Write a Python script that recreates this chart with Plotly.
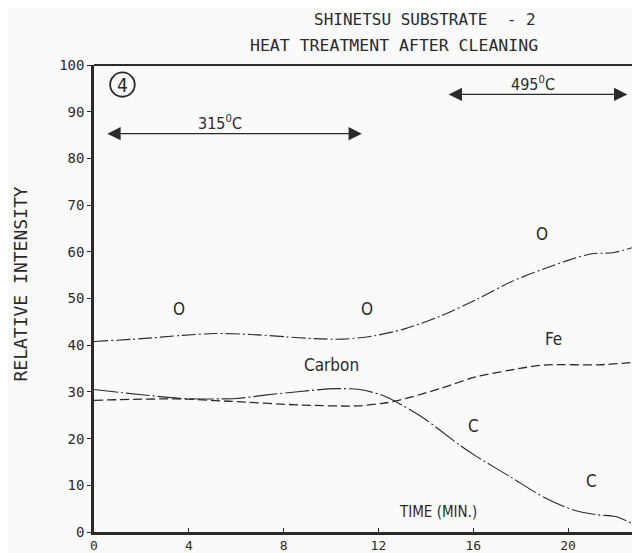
import plotly.graph_objects as go

# ---- data ----
time_o = [0.0, 2.0, 3.7, 5.1, 6.6, 8.1, 9.3, 10.5, 11.8, 13.1, 14.6, 16.1, 17.6, 18.9, 19.9, 21.0, 21.9, 22.9]
oxygen = [40.8, 41.4, 42.1, 42.5, 42.3, 41.8, 41.4, 41.3, 42.0, 43.5, 46.2, 49.7, 53.6, 56.2, 58.0, 59.6, 59.8, 61.2]

time_c = [0.0, 2.0, 3.7, 6.0, 7.2, 8.7, 10.2, 11.2, 12.1, 12.7, 13.9, 15.4, 16.1, 17.6, 19.1, 20.3, 21.2, 22.0, 22.8]
carbon = [30.5, 29.4, 28.6, 28.6, 29.3, 30.1, 30.7, 30.5, 29.4, 28.0, 24.4, 18.7, 16.3, 11.7, 7.1, 4.6, 3.7, 3.3, 1.6]

time_fe = [0.0, 3.5, 5.7, 8.7, 11.1, 12.1, 12.7, 14.6, 16.1, 18.3, 19.1, 21.3, 22.9]
iron = [28.2, 28.5, 28.0, 27.2, 27.0, 27.5, 28.0, 30.7, 33.2, 35.3, 35.8, 35.8, 36.4]

x_ticks = [0, 4, 8, 12, 16, 20]
x_labels = ["0", "4", "8", "12", "16", "20"]
y_ticks = [0, 10, 20, 30, 40, 50, 60, 70, 80, 90, 100]

title_lines = ["SHINETSU SUBSTRATE  - 2", "HEAT TREATMENT AFTER CLEANING"]
y_title = "RELATIVE INTENSITY"

# curve labels: (text, time, value)
curve_labels = [("O", 3.6, 47.8), ("O", 11.5, 47.8), ("O", 18.9, 63.8),
                ("Fe", 19.4, 41.3), ("Carbon", 10.0, 35.7),
                ("C", 16.0, 22.7), ("C", 21.0, 11.0)]

# temperature ranges: (label, start, end, level, label position)
temp_ranges = [("315<sup>0</sup>C", 0.5, 11.3, 85.3, 5.3), ("495<sup>0</sup>C", 14.9, 22.5, 93.7, 18.5)]

INK = "#2a2a2a"
NARROW = "Liberation Sans Narrow, DejaVu Sans Condensed, Arial Narrow, sans-serif"
MONO = "DejaVu Sans Mono, Liberation Mono, monospace"

fig = go.Figure()
fig.add_trace(go.Scatter(x=time_o, y=oxygen, mode="lines",
                         line=dict(color=INK, width=1.1, shape="spline", smoothing=0.8, dash="14px,3px,2px,3px"),
                         hoverinfo="skip"))
fig.add_trace(go.Scatter(x=time_fe, y=iron, mode="lines",
                         line=dict(color=INK, width=1.3, shape="spline", smoothing=0.8, dash="9px,4px"),
                         hoverinfo="skip"))
fig.add_trace(go.Scatter(x=time_c, y=carbon, mode="lines",
                         line=dict(color=INK, width=1.1, shape="spline", smoothing=0.8, dash="24px,3px,2px,3px"),
                         hoverinfo="skip"))

for text, tx, ty in curve_labels:
    fig.add_annotation(x=tx, y=ty, text=text, showarrow=False, font=dict(family=NARROW, size=17, color=INK))

for label, t0, t1, lvl, tl in temp_ranges:
    fig.add_annotation(x=t1, y=lvl, ax=t0, ay=lvl, xref="x", yref="y", axref="x", ayref="y",
                       text="", showarrow=True, arrowhead=2, startarrowhead=2, arrowside="end+start",
                       arrowsize=1.9, startarrowsize=1.9, arrowwidth=1.4, arrowcolor=INK)
    fig.add_annotation(x=tl, y=lvl, yshift=11, text=label, showarrow=False,
                       font=dict(family=NARROW, size=16, color=INK))

fig.add_annotation(x=1.2, y=95.8, text="4", showarrow=False, font=dict(family=NARROW, size=19, color=INK))
fig.add_annotation(x=14.5, y=4.2, text="TIME (MIN.)", showarrow=False, font=dict(family=NARROW, size=15, color=INK))

fig.add_annotation(x=0.608, y=1.0, xref="paper", yref="paper", yshift=46, xanchor="center", yanchor="middle",
                   text=title_lines[0], showarrow=False, font=dict(family=MONO, size=16, color=INK))
fig.add_annotation(x=0.551, y=1.0, xref="paper", yref="paper", yshift=20, xanchor="center", yanchor="middle",
                   text=title_lines[1], showarrow=False, font=dict(family=MONO, size=16.5, color=INK))
fig.add_annotation(x=0, y=53, xref="paper", yref="y", xshift=-74, textangle=-90, xanchor="center", yanchor="middle",
                   text=y_title, showarrow=False, font=dict(family=MONO, size=18, color=INK))

fig.update_layout(
    width=632, height=545,
    margin=dict(l=86, r=2, t=57, b=21),
    paper_bgcolor="#fafafa", plot_bgcolor="#fafafa",
    showlegend=False,
    shapes=[
        dict(type="circle", xref="x", yref="y", x0=0.68, x1=1.72, y0=93.2, y1=98.4, line=dict(color=INK, width=1.8)),
        dict(type="line", xref="paper", yref="paper", x0=0, x1=1, y0=1, y1=1, line=dict(color=INK, width=2)),
        dict(type="line", xref="paper", yref="paper", x0=1, x1=1, y0=0, y1=1, line=dict(color=INK, width=1.5)),
    ],
    xaxis=dict(range=[0, 22.95], tickvals=x_ticks, ticktext=x_labels, showgrid=False, zeroline=False,
               showline=True, linecolor=INK, linewidth=2.5, ticks="inside", ticklen=4, tickcolor=INK,
               tickfont=dict(family=MONO, size=13, color=INK), automargin=False),
    yaxis=dict(range=[0, 100], tickvals=y_ticks, showgrid=False, zeroline=False,
               showline=True, linecolor=INK, linewidth=2.5, ticks="outside", ticklen=4, tickcolor=INK,
               tickfont=dict(family=MONO, size=14, color=INK), automargin=False),
)

fig.write_html("out.html")
